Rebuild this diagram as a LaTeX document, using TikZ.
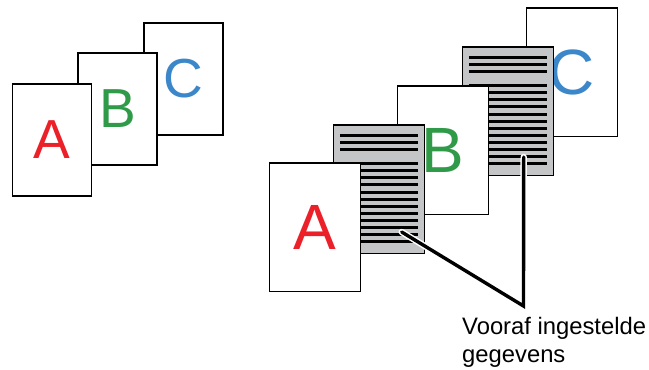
\documentclass[tikz,border=0pt]{standalone}
\usepackage{fontspec}
\setmainfont{Liberation Sans}
\usetikzlibrary{positioning, calc}

\begin{document}
\begin{tikzpicture}[
  x=1pt, y=-1pt,
  smallPage/.style={draw=black, line width=1.6pt, fill=white, inner sep=0pt,
    minimum width=79pt, minimum height=112.5pt,
    font=\fontsize{55}{55}\selectfont},
  bigPage/.style={draw=black, line width=1.5pt, fill=white, inner sep=0pt,
    minimum width=91pt, minimum height=128.5pt,
    font=\fontsize{64}{64}\selectfont},
  dataPage/.style={bigPage, fill=cGrey},
  dataLine/.style={black, line width=3pt},
  callout/.style={line width=3.4pt, line cap=round, line join=miter},
]
\definecolor{cRed}{HTML}{EC2028}
\definecolor{cGreen}{HTML}{2F9B48}
\definecolor{cBlue}{HTML}{3B87C9}
\definecolor{cGrey}{HTML}{C4C5C7}

\useasboundingbox (0,0) rectangle (649,370);

% ---------- left stack: A, B, C ----------
\node[smallPage, text=cBlue]  (lC) at (183.5,79) {C};
\node[smallPage, text=cGreen] (lB) at (117.5,109) {B};
\node[smallPage, text=cRed]   (lA) at (52,140) {A};

% ---------- right stack, back to front ----------
\node[bigPage, text=cBlue] (rC) at (572,72) {C};

\node[dataPage] (dataR) at (508,111) {};
\foreach \dy in {11.5, 18.7, 25.9}
  \draw[dataLine] ($(dataR.north west)+(7.3,\dy)$) -- ($(dataR.north east)+(-7.3,\dy)$);
\foreach \k in {0,...,11}
  \draw[dataLine] ($(dataR.north west)+(7.3,{39.8+7.05*\k})$)
    -- ($(dataR.north east)+(-7.3,{39.8+7.05*\k})$);

\node[bigPage, text=cGreen] (rB) at (443,150) {B};

\node[dataPage] (dataL) at (379,189) {};
\foreach \dy in {11.5, 18.7, 25.9}
  \draw[dataLine] ($(dataL.north west)+(7.3,\dy)$) -- ($(dataL.north east)+(-7.3,\dy)$);
\foreach \k in {0,...,11}
  \draw[dataLine] ($(dataL.north west)+(7.3,{39.8+7.05*\k})$)
    -- ($(dataL.north east)+(-7.3,{39.8+7.05*\k})$);

\node[bigPage, text=cRed] (rA) at (315,227) {A};

% ---------- label + callout ----------
\node[anchor=north west, inner sep=0pt, align=left,
      font=\fontsize{23.8}{28}\selectfont] (lblData) at (462,317)
  {Vooraf ingestelde\\gegevens};
\coordinate (tipData) at ($(lblData.north west)+(61.5,-11)$);

\draw[callout, white, line width=6.4pt]
  ($(dataL.center)+(22.7,43)$) -- (tipData) -- ($(dataR.center)+(15.7,46)$);
\draw[callout, black]
  ($(dataL.center)+(22.7,43)$) -- (tipData) -- ($(dataR.center)+(15.7,46)$);

\end{tikzpicture}
\end{document}
